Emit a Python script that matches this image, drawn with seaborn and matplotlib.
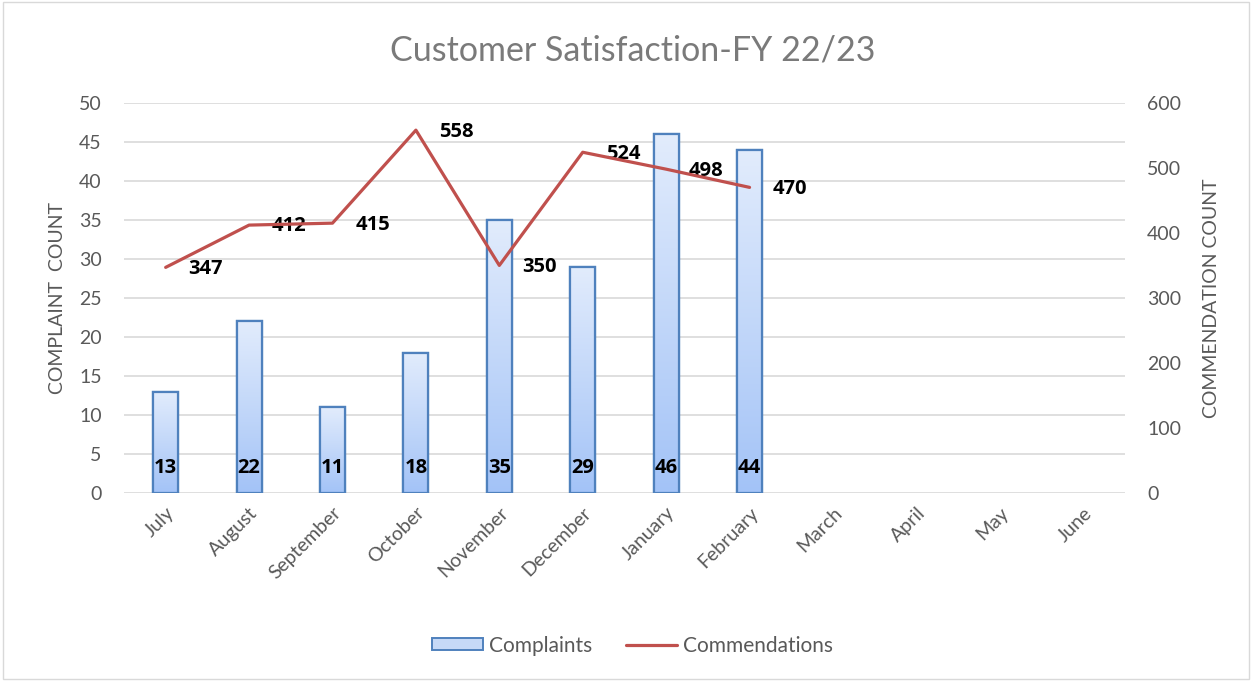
import matplotlib.pyplot as plt
import numpy as np
import pandas as pd
import seaborn as sb
from matplotlib.lines import Line2D
from matplotlib.patches import Rectangle

months = ['July', 'August', 'September', 'October', 'November', 'December',
          'January', 'February', 'March', 'April', 'May', 'June']
complaints = [13, 22, 11, 18, 35, 29, 46, 44, np.nan, np.nan, np.nan, np.nan]
commendations = [347, 412, 415, 558, 350, 524, 498, 470, np.nan, np.nan, np.nan, np.nan]

df = pd.DataFrame({'Month': months, 'Complaints': complaints, 'Commendations': commendations})

sb.set_style("white")
plt.rcParams['font.family'] = ['Lato', 'DejaVu Sans']

grey = '#595959'
bold_font = ['Open Sans', 'DejaVu Sans']
fig = plt.figure(figsize=(12.52, 6.81), dpi=100)
ax = fig.add_axes([0.099, 0.276, 0.7995, 0.573])

sb.barplot(data=df, x='Month', y='Complaints', color='#c6d9f7', width=0.3,
           edgecolor='#4f81bd', linewidth=1.6, ax=ax, zorder=3)

# vertical gradient inside each bar
grad = np.linspace(0, 1, 256).reshape(-1, 1)
cmap = sb.blend_palette(['#a3c3f7', '#e2ecfc'], as_cmap=True)
for p in ax.patches:
    h = p.get_height()
    if np.isnan(h) or h == 0:
        continue
    x0 = p.get_x()
    w = p.get_width()
    im = ax.imshow(grad, extent=[x0, x0 + w, 0, h], origin='lower', aspect='auto',
                   cmap=cmap, zorder=3.5)
    im.set_clip_path(p)
    ax.add_patch(Rectangle((x0, 0), w, h, fill=False, edgecolor='#4f81bd',
                           linewidth=1.6, zorder=4))

for i, v in enumerate(complaints):
    if not np.isnan(v):
        ax.text(i, 3.2, f'{int(v)}', ha='center', va='center', fontsize=14.5,
                fontweight='bold', family=bold_font, color='black', zorder=6)

ax.set_xlim(-0.5, 11.5)
ax.set_ylim(0, 50)
ax.set_yticks(range(0, 51, 5))
ax.yaxis.grid(True, color='#d9d9d9', linewidth=1.2, zorder=0)
ax.set_axisbelow(True)
for s in ax.spines.values():
    s.set_visible(False)
ax.tick_params(axis='x', length=0, labelsize=14, colors=grey, pad=8)
ax.tick_params(axis='y', length=0, labelsize=14, colors=grey, pad=16)
ax.set_xticks(range(12))
ax.set_xticklabels(months, rotation=45, ha='right', rotation_mode='anchor')
ax.set_xlabel('')
ax.set_ylabel('COMPLAINT  COUNT', fontsize=14, color=grey, labelpad=9)

ax2 = ax.twinx()
sb.lineplot(x=np.arange(12), y=commendations, color='#c0504d', linewidth=2.3,
            ax=ax2, zorder=5)
ax2.set_ylim(0, 600)
ax2.set_yticks(range(0, 601, 100))
for s in ax2.spines.values():
    s.set_visible(False)
ax2.tick_params(axis='y', length=0, labelsize=14, colors=grey, pad=16)
ax2.set_ylabel('COMMENDATION COUNT', fontsize=14, color=grey, labelpad=16)
for i, v in enumerate(commendations):
    if not np.isnan(v):
        ax2.annotate(f'{int(v)}', (i, v), xytext=(29, -1), textcoords='offset points',
                     ha='center', va='center', fontsize=14.5, fontweight='bold',
                     family=bold_font, color='black', annotation_clip=False)
ax2.set_xlim(-0.5, 11.5)

fig.suptitle('Customer Satisfaction-FY 22/23', x=0.505, y=0.95, fontsize=24.5, color='#7a7a7a')

handles = [Rectangle((0, 0), 1, 1, facecolor='#c6d9f7', edgecolor='#4f81bd', linewidth=1.4),
           Line2D([0], [0], color='#c0504d', linewidth=2.3)]
fig.legend(handles, ['Complaints', 'Commendations'], loc='center', bbox_to_anchor=(0.505, 0.052),
           ncol=2, frameon=False, fontsize=15, labelcolor=grey, handlelength=2.45,
           handleheight=0.5, columnspacing=1.6, handletextpad=0.3)

fig.patches.append(Rectangle((0.002, 0.003), 0.996, 0.994, transform=fig.transFigure,
                             fill=False, edgecolor='#d9d9d9', linewidth=1))

plt.savefig('out.png', dpi=100)
